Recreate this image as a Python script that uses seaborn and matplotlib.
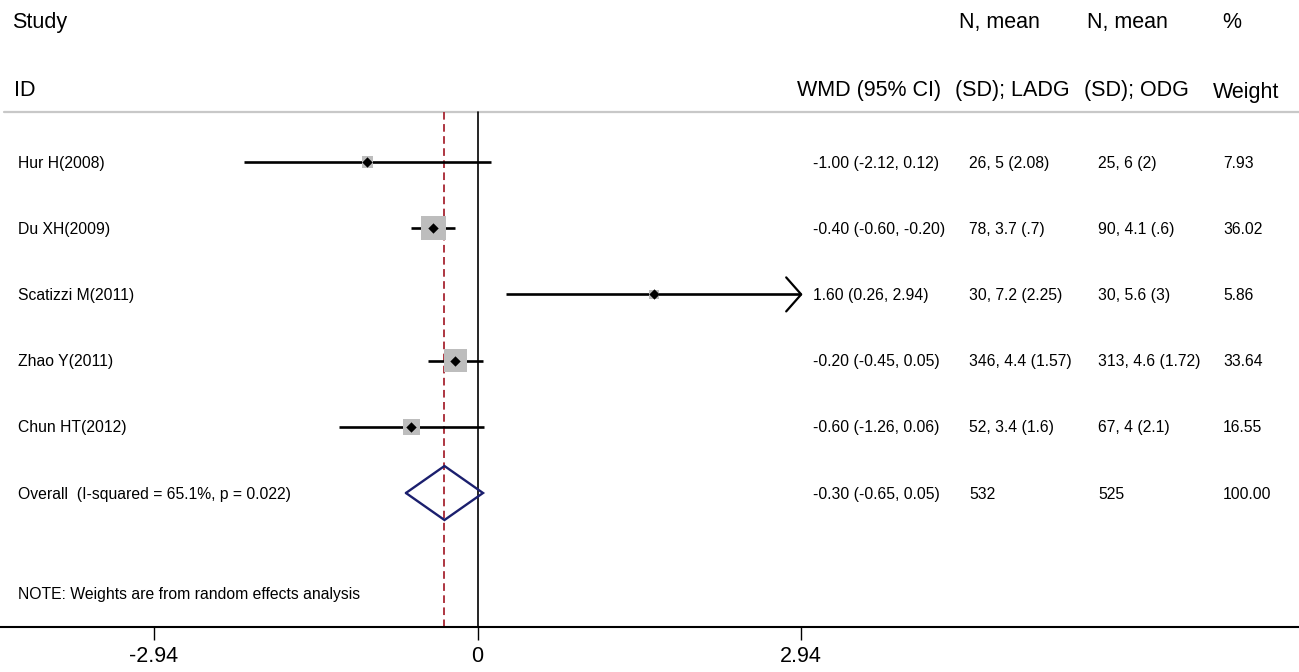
import matplotlib
matplotlib.use("Agg")
import matplotlib.pyplot as plt
import matplotlib.transforms as mtransforms
import seaborn as sns
import pandas as pd

# ---------------- data ----------------
studies = ["Hur H(2008)", "Du XH(2009)", "Scatizzi M(2011)", "Zhao Y(2011)", "Chun HT(2012)"]
wmd = [-1.00, -0.40, 1.60, -0.20, -0.60]
ci_low = [-2.12, -0.60, 0.26, -0.45, -1.26]
ci_high = [0.12, -0.20, 2.94, 0.05, 0.06]
ladg = ["26, 5 (2.08)", "78, 3.7 (.7)", "30, 7.2 (2.25)", "346, 4.4 (1.57)", "52, 3.4 (1.6)"]
odg = ["25, 6 (2)", "90, 4.1 (.6)", "30, 5.6 (3)", "313, 4.6 (1.72)", "67, 4 (2.1)"]
weights = [7.93, 36.02, 5.86, 33.64, 16.55]

overall_label = "Overall  (I-squared = 65.1%, p = 0.022)"
overall_est = -0.30
overall_low = -0.65
overall_high = 0.05
overall_n_ladg = "532"
overall_n_odg = "525"
overall_weight = 100.00

note = "NOTE: Weights are from random effects analysis"
tick_vals = [-2.94, 0, 2.94]
tick_labels = ["-2.94", "0", "2.94"]

# ---------------- layout ----------------
W, H = 1299, 672
sns.set_theme(style="white")
plt.rcParams["font.family"] = ["Liberation Sans", "DejaVu Sans"]
plt.rcParams["lines.scale_dashes"] = False
plt.rcParams["text.color"] = "black"
plt.rcParams["xtick.color"] = "black"
plt.rcParams["xtick.labelcolor"] = "black"

fig = plt.figure(figsize=(W / 100, H / 100), dpi=100)
ax = fig.add_axes([0, 0, 1, 1])

zero_px, unit_px = 477.5, 110.1
ax.set_xlim(-zero_px / unit_px, (W - zero_px) / unit_px)
ax.set_ylim(H, 0)  # y in pixel rows from top

row0, row_step = 162, 66.2
ypos = [row0 + row_step * i for i in range(len(studies))]
y_over = row0 + row_step * len(studies)

def fx(px):
    return px / W

tx = mtransforms.blended_transform_factory(ax.transAxes, ax.transData)

# gray separator under header
ax.plot([fx(4), 1], [112, 112], transform=tx, color="#c8c8c8", lw=1.6, zorder=1)

# reference lines
ax.plot([0, 0], [112, 627], color="black", lw=1.2, zorder=2)
ax.plot([overall_est, overall_est], [112, 627], color="#ad3540", lw=1.4,
        dashes=(5.5, 3.2), zorder=2)

# CI lines (with arrow when truncated at axis max)
xmax_axis = tick_vals[-1]
for y, lo, hi in zip(ypos, ci_low, ci_high):
    hi_c = min(hi, xmax_axis)
    ax.plot([lo, hi_c], [y, y], color="black", lw=1.9, zorder=3, solid_capstyle="butt")
    if hi >= xmax_axis:
        back = 15 / unit_px
        ax.plot([hi_c - back, hi_c, hi_c - back], [y - 17, y, y + 17],
                color="black", lw=1.6, zorder=3)

df = pd.DataFrame({"study": studies, "wmd": wmd, "y": ypos, "weight": weights})
k = 8.4
sns.scatterplot(data=df, x="wmd", y="y", size="weight",
                sizes=(k * min(weights), k * max(weights)),
                marker="s", color="#bdbdbd", linewidth=0, legend=False,
                ax=ax, zorder=4)
sns.scatterplot(data=df, x="wmd", y="y", marker="D", s=28, color="black",
                linewidth=0, legend=False, ax=ax, zorder=5)

# overall diamond
hh = 27
ax.plot([overall_low, overall_est, overall_high, overall_est, overall_low],
        [y_over, y_over - hh, y_over, y_over + hh, y_over],
        color="#1b1f6e", lw=1.7, zorder=5, solid_joinstyle="miter")

# ---------------- text ----------------
hfs = 15.5
rfs = 11.3
hb = 7.6   # baseline offset for header text (px)
rb = 5.6   # baseline offset for row text (px)
tc = "black"

ax.text(fx(12), 20 + hb, "Study", transform=tx, fontsize=hfs, va="baseline", color=tc)
ax.text(fx(14), 88 + hb, "ID", transform=tx, fontsize=hfs, va="baseline", color=tc)
ax.text(fx(941), 88 + hb, "WMD (95% CI)", transform=tx, fontsize=hfs, va="baseline", ha="right", color=tc)
ax.text(fx(959), 20 + hb, "N, mean", transform=tx, fontsize=hfs, va="baseline", color=tc)
ax.text(fx(955), 88 + hb, "(SD); LADG", transform=tx, fontsize=hfs, va="baseline", color=tc)
ax.text(fx(1087), 20 + hb, "N, mean", transform=tx, fontsize=hfs, va="baseline", color=tc)
ax.text(fx(1084), 88 + hb, "(SD); ODG", transform=tx, fontsize=hfs, va="baseline", color=tc)
ax.text(fx(1222), 20 + hb, "%", transform=tx, fontsize=hfs, va="baseline", color=tc)
ax.text(fx(1213), 90 + hb, "Weight", transform=tx, fontsize=hfs, va="baseline", color=tc)

cols = [18, 813, 969, 1098, 1223]
for i, y in enumerate(ypos):
    vals = [studies[i],
            f"{wmd[i]:.2f} ({ci_low[i]:.2f}, {ci_high[i]:.2f})",
            ladg[i], odg[i], f"{weights[i]:.2f}"]
    for cx, v in zip(cols, vals):
        ax.text(fx(cx), y + rb, v, transform=tx, fontsize=rfs, va="baseline", color=tc)

over_vals = [overall_label,
             f"{overall_est:.2f} ({overall_low:.2f}, {overall_high:.2f})",
             overall_n_ladg, overall_n_odg, f"{overall_weight:.2f}"]
for cx, v in zip(cols, over_vals):
    ax.text(fx(cx), y_over + rb, v, transform=tx, fontsize=rfs, va="baseline", color=tc)

ax.text(fx(18), 593 + rb, note, transform=tx, fontsize=rfs, va="baseline", color=tc)

# ---------------- axis ----------------
for s in ["top", "left", "right"]:
    ax.spines[s].set_visible(False)
ax.spines["bottom"].set_position(("data", 627))
ax.spines["bottom"].set_linewidth(1.5)
ax.spines["bottom"].set_color("black")
ax.set_xticks(tick_vals)
ax.set_xticklabels(tick_labels, fontsize=hfs, color="black")
ax.tick_params(axis="x", direction="out", length=9.5, width=1.0, color="black",
               labelcolor="black", pad=4.5, bottom=True)
ax.set_yticks([])
ax.set_xlabel("")
ax.set_ylabel("")
ax.grid(False)

fig.savefig("out.png", dpi=100)
